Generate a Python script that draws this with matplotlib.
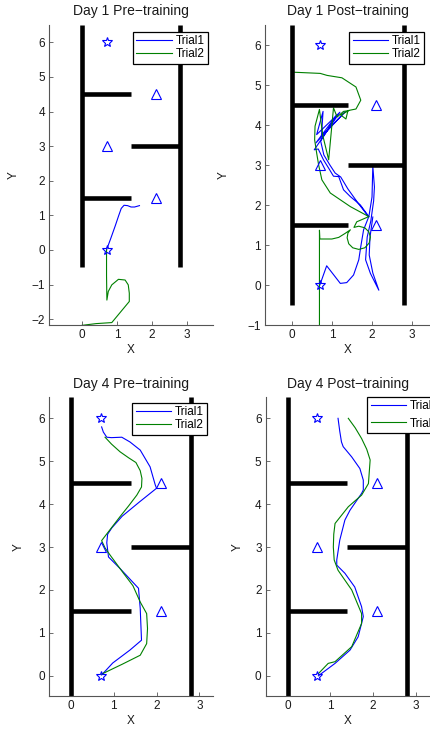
import matplotlib
matplotlib.use("Agg")
import matplotlib.pyplot as plt

plt.rcParams['font.family'] = ['Liberation Sans', 'DejaVu Sans']

# ---- maze layout (shared by all panels) ----
wall_xs = [[0.0, 0.0], [2.8, 2.8], [0.0, 1.4], [0.0, 1.4], [1.4, 2.8]]
wall_ys = [[-0.5, 6.5], [-0.5, 6.5], [4.5, 4.5], [1.5, 1.5], [3.0, 3.0]]
star_x = [0.7, 0.7]
star_y = [6.0, 0.0]
tri_x = [2.1, 0.7, 2.1]
tri_y = [4.5, 3.0, 1.5]

titles = ["Day 1 Pre\u2212training", "Day 1 Post\u2212training",
          "Day 4 Pre\u2212training", "Day 4 Post\u2212training"]
labels = ["Trial1", "Trial2"]

# ---- trajectories ----
d1pre_t1_x = [0.70, 0.82, 0.95, 1.05, 1.12, 1.20, 1.30, 1.40, 1.50, 1.64]
d1pre_t1_y = [0.00, 0.33, 0.70, 1.00, 1.20, 1.29, 1.28, 1.24, 1.24, 1.28]
d1pre_t2_x = [0.70, 0.70, 0.71, 0.75, 0.85, 1.04, 1.23, 1.32, 1.35, 1.35, 0.85, 0.40, 0.00]
d1pre_t2_y = [0.00, -0.75, -1.45, -1.20, -1.01, -0.85, -0.87, -1.01, -1.25, -1.49, -2.10, -2.13, -2.18]

d1post_t1_x = [0.70, 0.87, 1.21, 1.37, 1.54, 1.67, 1.72, 1.79, 1.92, 1.71, 1.46, 1.29, 1.17,
               1.04, 0.92, 0.79, 0.66, 0.56, 1.20, 0.62, 0.78, 0.74, 1.33, 0.60, 1.12, 0.72,
               0.80, 0.95, 1.08, 1.22, 1.40, 1.65, 1.92, 2.00, 2.02, 2.06, 2.04, 1.97, 1.88,
               1.84, 1.96, 2.17, 2.02, 1.93, 1.95, 2.02]
d1post_t1_y = [0.00, 0.48, 0.04, 0.06, 0.25, 0.63, 0.96, 1.38, 1.71, 2.00, 2.21, 2.38, 2.71,
               2.72, 2.92, 3.13, 3.40, 3.38, 4.32, 3.76, 4.34, 3.72, 4.33, 3.55, 4.25, 3.60,
               3.25, 3.00, 2.80, 2.70, 2.40, 2.05, 1.70, 2.20, 2.97, 2.45, 2.10, 1.60, 1.20,
               0.63, 0.29, -0.13, 0.30, 0.75, 1.20, 1.70]
d1post_t2_x = [0.69, 0.69, 0.70, 1.00, 1.17, 1.33, 1.46, 1.40, 1.38, 1.42, 1.52, 1.67, 1.82,
               1.93, 1.96, 1.92, 1.82, 1.67, 1.55, 1.62, 1.92, 1.46, 0.96, 0.75, 0.67, 0.62,
               0.57, 0.58, 0.69, 0.77, 0.92, 1.04, 1.13, 1.29, 1.42, 1.22, 1.35, 1.40, 1.60,
               1.72, 1.60, 1.25, 0.88, 0.71, 0.04]
d1post_t2_y = [-1.10, 1.37, 1.15, 1.15, 1.19, 1.29, 1.38, 1.30, 1.18, 1.03, 0.93, 0.89, 0.93,
               1.05, 1.20, 1.33, 1.43, 1.47, 1.44, 1.58, 1.71, 1.96, 2.30, 2.63, 3.00, 3.30,
               3.63, 3.97, 4.39, 3.75, 3.13, 4.43, 4.20, 4.34, 4.36, 4.25, 4.15, 4.36, 4.40,
               4.62, 4.95, 5.18, 5.24, 5.29, 5.32]

d4pre_t1_x = [0.72, 0.76, 0.84, 0.95, 1.19, 1.38, 1.62, 1.85, 1.97, 2.00, 1.60, 1.20, 0.96,
              0.86, 0.84, 0.88, 1.15, 1.58, 1.62, 1.65, 1.38, 0.98, 0.72]
d4pre_t1_y = [5.80, 5.68, 5.56, 5.55, 5.56, 5.45, 5.26, 4.87, 4.45, 4.37, 4.05, 3.72, 3.45,
              3.30, 3.10, 2.77, 2.50, 2.04, 1.57, 0.83, 0.60, 0.30, 0.02]
d4pre_t2_x = [0.80, 0.95, 1.15, 1.35, 1.52, 1.62, 1.66, 1.65, 1.54, 1.35, 1.15, 0.95, 0.72,
              0.80, 0.92, 1.23, 1.45, 1.62, 1.77, 1.79, 1.77, 1.62, 1.20, 0.72]
d4pre_t2_y = [5.56, 5.40, 5.22, 5.08, 4.97, 4.78, 4.60, 4.40, 4.21, 3.96, 3.71, 3.45, 3.15,
              2.98, 2.81, 2.39, 2.10, 1.72, 1.45, 1.10, 0.75, 0.48, 0.27, 0.04]

d4post_t1_x = [1.18, 1.22, 1.26, 1.30, 1.50, 1.69, 1.77, 1.77, 1.73, 1.46, 1.34, 1.22, 1.15,
               1.15, 1.34, 1.57, 1.73, 1.77, 1.65, 1.46, 1.11, 0.72]
d4post_t1_y = [6.00, 5.70, 5.45, 5.34, 5.10, 4.83, 4.56, 4.33, 4.25, 3.86, 3.63, 3.16, 2.70,
               2.58, 2.39, 2.07, 1.61, 1.38, 0.91, 0.60, 0.29, 0.00]
d4post_t2_x = [1.42, 1.58, 1.73, 1.85, 1.93, 1.89, 1.73, 1.42, 1.11, 1.08, 1.07, 1.09, 1.18,
               1.50, 1.73, 1.73, 1.50, 1.11, 0.95, 0.72]
d4post_t2_y = [6.00, 5.78, 5.53, 5.28, 5.03, 4.48, 4.21, 3.94, 3.55, 3.30, 3.00, 2.70, 2.46,
               2.00, 1.45, 1.22, 0.68, 0.33, 0.29, 0.05]

trials = [
    (d1pre_t1_x, d1pre_t1_y, d1pre_t2_x, d1pre_t2_y),
    (d1post_t1_x, d1post_t1_y, d1post_t2_x, d1post_t2_y),
    (d4pre_t1_x, d4pre_t1_y, d4pre_t2_x, d4pre_t2_y),
    (d4post_t1_x, d4post_t1_y, d4post_t2_x, d4post_t2_y),
]

# ---- panel geometry (pixels on a 430x730 canvas) ----
W, H = 430, 730
boxes = [(49, 25, 213, 325), (265, 25, 431, 325),
         (49.3, 397.3, 212.7, 696), (265.7, 397.3, 430.5, 696)]
xlims = [(-0.943, 3.74), (-0.667, 3.47), (-0.50, 3.31), (-0.51, 3.34)]
ylims = [(-2.17, 6.5), (-1.0, 6.5), (-0.47, 6.49), (-0.47, 6.49)]
yticks = [range(-2, 7), range(-1, 7), range(0, 7), range(0, 7)]
leg_anchor = [(0.9695, 0.9777, 'upper right'), (0.959, 0.9777, 'upper right'),
              (0.967, 0.982, 'upper right'), (0.615, 1.002, 'upper left')]
leg_spacing = [0.1, 0.1, 0.1, 0.45]
ylab_x = [-0.20, -0.232, -0.169, -0.156]

fig = plt.figure(figsize=(W / 100, H / 100), dpi=100)
blue = '#0000ff'
green = '#008000'
axis_col = '#555555'

for i in range(4):
    l, t, r, b = boxes[i]
    ax = fig.add_axes([l / W, (H - b) / H, (r - l) / W, (b - t) / H])
    t1x, t1y, t2x, t2y = trials[i]
    h1, = ax.plot(t1x, t1y, color=blue, lw=0.8, label=labels[0])
    h2, = ax.plot(t2x, t2y, color=green, lw=0.8, label=labels[1])
    for wx, wy in zip(wall_xs, wall_ys):
        ax.plot(wx, wy, color='black', lw=3.3, solid_capstyle='butt')
    ax.plot(star_x, star_y, linestyle='none', marker='*', markersize=7,
            markerfacecolor='none', markeredgecolor=blue, markeredgewidth=0.8)
    ax.plot(tri_x, tri_y, linestyle='none', marker='^', markersize=7,
            markerfacecolor='none', markeredgecolor=blue, markeredgewidth=0.8)

    ax.set_xlim(*xlims[i])
    ax.set_ylim(*ylims[i])
    ax.set_xticks([0, 1, 2, 3])
    ax.set_yticks(list(yticks[i]))
    for s in ('top', 'right'):
        ax.spines[s].set_visible(False)
    for s in ('left', 'bottom'):
        ax.spines[s].set_color(axis_col)
        ax.spines[s].set_linewidth(0.8)
    ax.tick_params(direction='in', length=3, width=0.6, color=axis_col,
                   labelsize=8.5, labelcolor='#1a1a1a', pad=3)
    ax.set_title(titles[i], fontsize=10, pad=7, color='#1a1a1a')
    ax.set_xlabel('X', fontsize=8.5, color='#1a1a1a')
    ax.set_ylabel('Y', fontsize=8.5, color='#1a1a1a')
    ax.xaxis.set_label_coords(0.5, -0.062)
    ax.yaxis.set_label_coords(ylab_x[i] + 0.02, 0.5)

    ax_x, ax_y, loc = leg_anchor[i]
    leg = ax.legend(handles=[h1, h2], loc=loc, bbox_to_anchor=(ax_x, ax_y),
                    borderaxespad=0, fontsize=8.5, frameon=True, fancybox=False,
                    framealpha=1, edgecolor='black', handlelength=3.0,
                    handletextpad=0.3, labelspacing=leg_spacing[i], borderpad=0.3)
    leg.get_frame().set_linewidth(0.9)
    leg.set_zorder(10)

fig.savefig('out.png', dpi=100)
